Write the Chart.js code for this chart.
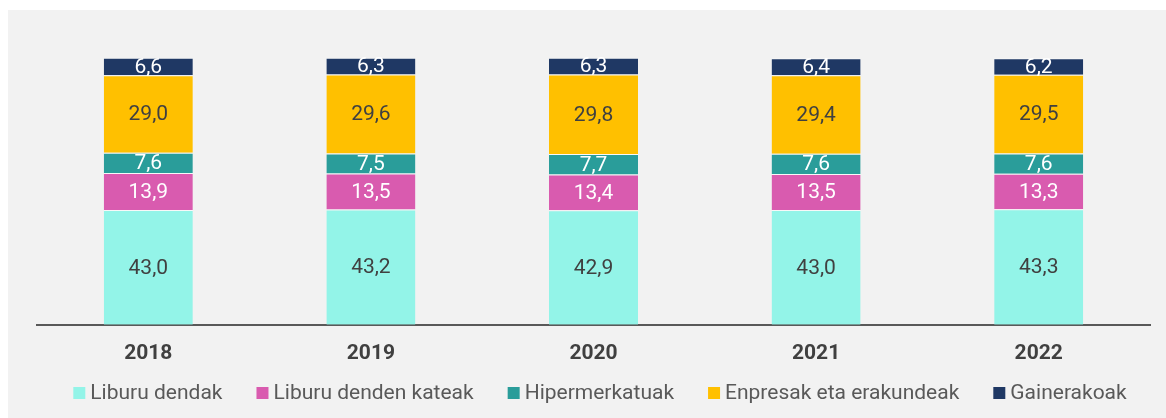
<!DOCTYPE html>
<html>
<head>
<meta charset="utf-8">
<script src="https://cdn.jsdelivr.net/npm/chart.js@4.4.1/dist/chart.umd.min.js"></script>
<style>
	html, body { margin: 0; padding: 0; background: #ffffff; }
	#panel { position: absolute; left: 8px; top: 10px; width: 1158px; height: 408px; background: #f2f2f2; }
	#panel canvas { display: block; }
</style>
</head>
<body>
<div id="panel"><canvas id="appBarChart" width="1158" height="408"></canvas></div>
<script>
// 차트 데이터
//--------------------------------------------------------//
const years        = ['2018', '2019', '2020', '2021', '2022'];
const seriesNames  = ['Liburu dendak', 'Liburu denden kateak', 'Hipermerkatuak', 'Enpresak eta erakundeak', 'Gainerakoak'];
const liburuDendak = [43.0, 43.2, 42.9, 43.0, 43.3];
const kateak       = [13.9, 13.5, 13.4, 13.5, 13.3];
const hipermerk    = [7.6, 7.5, 7.7, 7.6, 7.6];
const enpresak     = [29.0, 29.6, 29.8, 29.4, 29.5];
const gainerakoak  = [6.6, 6.3, 6.3, 6.4, 6.2];

// 색상 / 라벨 색상
const colors     = ['#93f4e8', '#d95baf', '#2a9d9a', '#ffc000', '#1f3864'];
const textColors = ['#404040', '#ffffff', '#ffffff', '#404040', '#ffffff'];

const FONT = 'Roboto';

// 막대 안 값 표시 (datalabels 대신)
const valueLabels = {
	id: 'valueLabels',
	afterDatasetsDraw: function(chart) {
		let ctx = chart.ctx;
		ctx.save();
		ctx.font = '21px ' + FONT;
		ctx.textAlign = 'center';
		ctx.textBaseline = 'middle';
		chart.data.datasets.forEach(function(ds, i) {
			chart.getDatasetMeta(i).data.forEach(function(bar, j) {
				let p = bar.getProps(['x', 'y', 'base'], true);
				ctx.fillStyle = textColors[i];
				ctx.fillText(ds.data[j].toFixed(1).replace('.', ','), p.x, (p.y + p.base) / 2 + 1);
			});
		});
		ctx.restore();
	}
};

// 범례 (박스-텍스트 간격 조정을 위해 직접 그림)
const bottomLegend = {
	id: 'bottomLegend',
	afterDraw: function(chart) {
		let ctx = chart.ctx;
		let box = 12, gap = 5, itemGap = 34, baseY = 389;
		ctx.save();
		ctx.font = '21px ' + FONT;
		ctx.textBaseline = 'alphabetic';
		let widths = seriesNames.map(function(n) { return ctx.measureText(n).width; });
		let total = widths.reduce(function(a, w) { return a + box + gap + w; }, 0) + itemGap * (widths.length - 1);
		let x = 592 - total / 2;
		seriesNames.forEach(function(n, i) {
			ctx.fillStyle = colors[i];
			ctx.fillRect(x, baseY - box, box, box);
			ctx.fillStyle = '#595959';
			ctx.fillText(n, x + box + gap, baseY);
			x += box + gap + widths[i] + itemGap;
		});
		ctx.restore();
	}
};

const allSeries = [liburuDendak, kateak, hipermerk, enpresak, gainerakoak];

new Chart(document.getElementById('appBarChart'), {
	type: 'bar',
	data: {
		labels: years,
		datasets: allSeries.map(function(d, i) {
			return {
				label: seriesNames[i],
				data: d,
				backgroundColor: colors[i],
				borderColor: 'rgba(255,255,255,0.45)',
				borderWidth: {top: 1, bottom: 0, left: 0, right: 0},
				borderSkipped: false,
				barPercentage: 0.4,
				categoryPercentage: 1.0
			};
		})
	},
	options: {
		responsive: false,
		animation: false,
		layout: { padding: {left: 29, right: 16, top: 48, bottom: 36} },
		plugins: {
			legend: {display: false},
			tooltip: {enabled: false}
		},
		scales: {
			x: {
				stacked: true,
				grid: {display: false, drawTicks: false},
				border: {color: '#595959', width: 2},
				ticks: {
					color: '#404040',
					padding: 16,
					font: {family: FONT, size: 21, weight: 'bold'}
				}
			},
			y: {
				stacked: true,
				display: false,
				min: 0,
				max: 100
			}
		}
	},
	plugins: [valueLabels, bottomLegend]
});
</script>
</body>
</html>
